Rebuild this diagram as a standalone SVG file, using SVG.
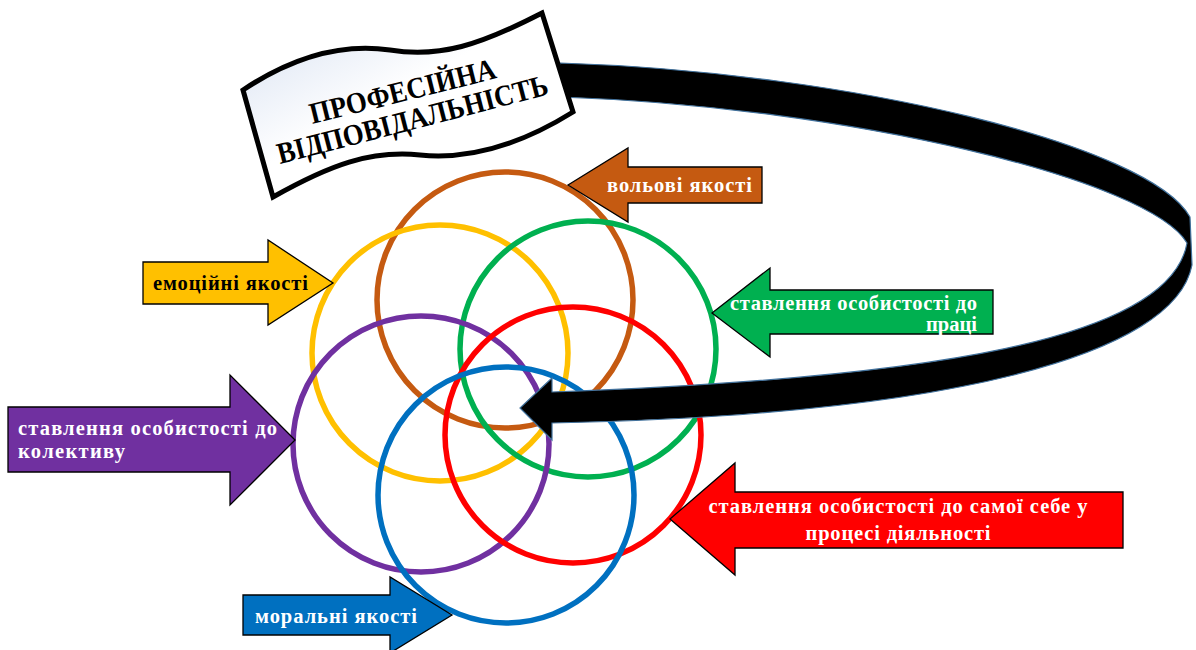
<svg xmlns="http://www.w3.org/2000/svg" width="1196" height="650" viewBox="0 0 1196 650">
<defs>
<linearGradient id="bg" x1="0" y1="0" x2="1" y2="1">
<stop offset="0" stop-color="#d6e0f1"/>
<stop offset="0.45" stop-color="#ffffff"/>
<stop offset="1" stop-color="#ffffff"/>
</linearGradient>
</defs>
<style>
.ring{fill:none;stroke-width:5.5}
.arr{stroke:#000;stroke-width:1.3}
.lbl{font-family:"Liberation Serif","Times New Roman",serif;font-weight:bold;font-size:20.5px;fill:#fff}
.dark{fill:#000}
.ban{font-family:"Liberation Serif","Times New Roman",serif;font-weight:bold;font-size:30px;fill:#000}
</style>
<rect width="1196" height="650" fill="#fff"/>
<g id="circles">
<circle class="ring" cx="505" cy="300" r="128" stroke="#C55A11"/>
<circle class="ring" cx="440" cy="353" r="128" stroke="#FFC000"/>
<circle class="ring" cx="588" cy="349" r="128" stroke="#00B050"/>
<circle class="ring" cx="421" cy="444" r="128" stroke="#7030A0"/>
<circle class="ring" cx="573" cy="435" r="128" stroke="#FF0000"/>
<circle class="ring" cx="506" cy="495" r="128" stroke="#0070C0"/>
</g>
<g id="connectors">
<path d="M560,63 C850,72 1150,145 1190,217 L1192,265 C1175,355 950,415 552,423 L552,440 L520,408 L552,378 L552,392 C930,378 1170,340 1187,243 C1150,180 850,107 560,97 Z" fill="#000" stroke="#41719C" stroke-width="1.2"/>
</g>
<g id="banner">
<path d="M243,90 C285,62 335,42 390,50 C440,58 480,45 542,13 L573,112 C520,145 470,160 420,155 C370,150 330,165 273,197 Z" fill="url(#bg)" stroke="#000" stroke-width="5" stroke-linejoin="miter"/>
<text class="ban" transform="translate(405,101) rotate(-14)" text-anchor="middle" textLength="191" lengthAdjust="spacingAndGlyphs">ПРОФЕСІЙНА</text>
<text class="ban" transform="translate(415,129) rotate(-14.5)" text-anchor="middle" textLength="279" lengthAdjust="spacingAndGlyphs">ВІДПОВІДАЛЬНІСТЬ</text>
</g>
<g id="n-volovi">
<path class="arr" fill="#C55A11" d="M568,185 L628,148 L628,167 L762,167 L762,203 L628,203 L628,222 Z"/>
<text class="lbl" x="607" y="192" textLength="145">вольові якості</text>
</g>
<g id="n-pratsi">
<path class="arr" fill="#00B050" d="M712,313 L770,268 L770,290 L993,290 L993,334 L770,334 L770,357 Z"/>
<text class="lbl" x="730" y="310" textLength="247">ставлення особистості до</text>
<text class="lbl" x="977" y="331" text-anchor="end">праці</text>
</g>
<g id="n-emotsii">
<path class="arr" fill="#FFC000" d="M143,262 L268,262 L268,240 L333,283 L268,325 L268,304 L143,304 Z"/>
<text class="lbl dark" x="153" y="290" textLength="155">емоційні якості</text>
</g>
<g id="n-kolektyv">
<path class="arr" fill="#7030A0" d="M8,407 L230,407 L230,375 L295,440 L230,505 L230,472 L8,472 Z"/>
<text class="lbl" x="18" y="435" textLength="259">ставлення особистості до</text>
<text class="lbl" x="18" y="458" textLength="107">колективу</text>
</g>
<g id="n-sebe">
<path class="arr" fill="#FF0000" d="M670,519 L735,463 L735,492 L1123,492 L1123,548 L735,548 L735,575 Z"/>
<text class="lbl" x="898" y="513" text-anchor="middle" textLength="379">ставлення особистості до самої себе у</text>
<text class="lbl" x="898" y="540" text-anchor="middle" textLength="185">процесі діяльності</text>
</g>
<g id="n-moralni">
<path class="arr" fill="#0070C0" d="M243,595 L390,595 L390,577 L452,615 L390,653 L390,635 L243,635 Z"/>
<text class="lbl" x="255" y="623" textLength="162">моральні якості</text>
</g>
</svg>
